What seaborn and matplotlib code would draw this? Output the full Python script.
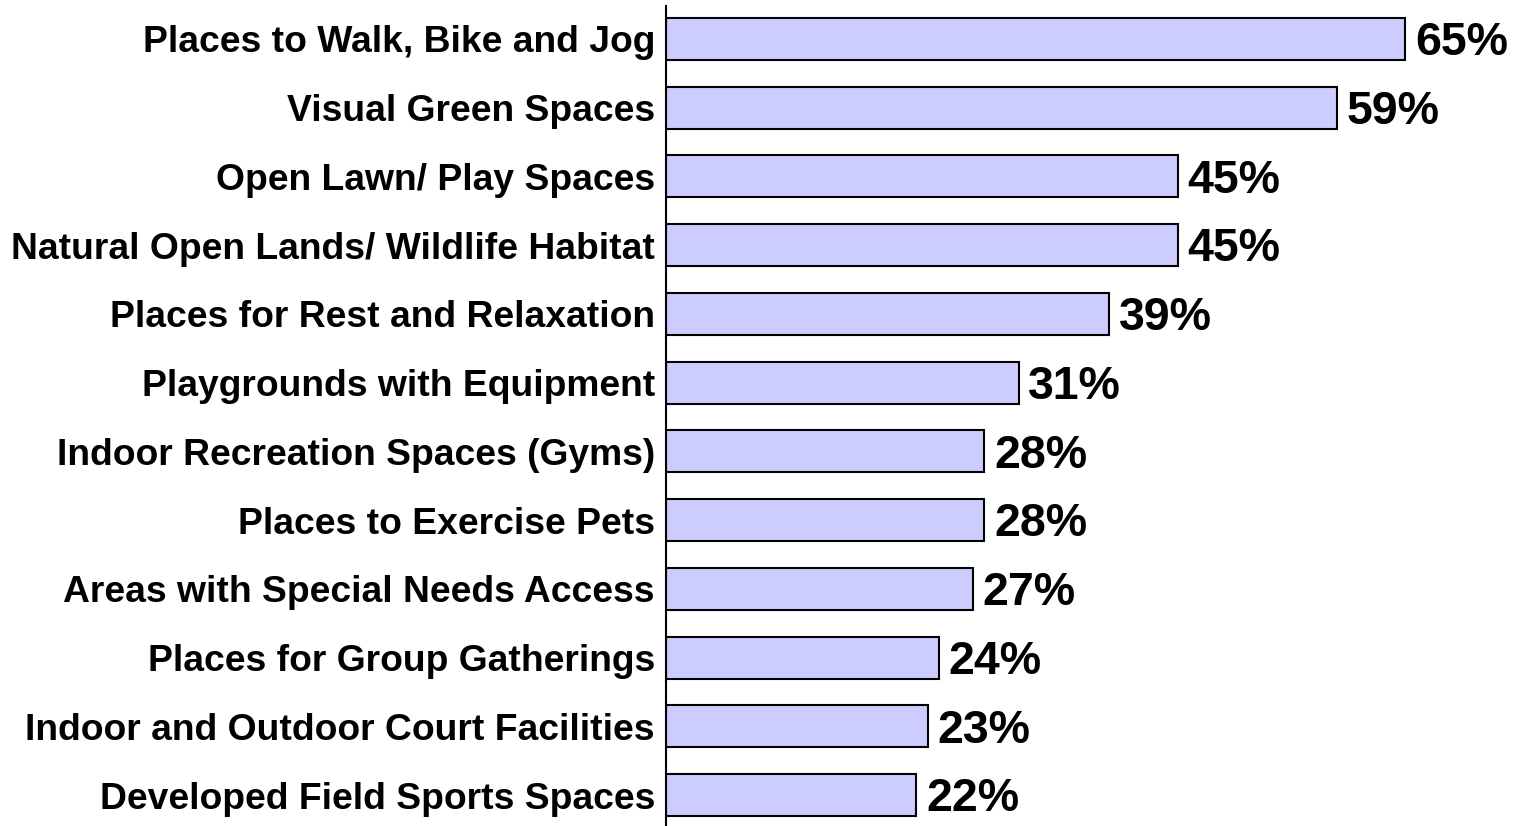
import matplotlib
matplotlib.use("Agg")
import matplotlib.pyplot as plt
import seaborn as sns
import pandas as pd

# survey items and share of respondents (%)
categories = [
    "Places to Walk, Bike and Jog",
    "Visual Green Spaces",
    "Open Lawn/ Play Spaces",
    "Natural Open Lands/ Wildlife Habitat",
    "Places for Rest and Relaxation",
    "Playgrounds with Equipment",
    "Indoor Recreation Spaces (Gyms)",
    "Places to Exercise Pets",
    "Areas with Special Needs Access",
    "Places for Group Gatherings",
    "Indoor and Outdoor Court Facilities",
    "Developed Field Sports Spaces",
]
values = [65, 59, 45, 45, 39, 31, 28, 28, 27, 24, 23, 22]
value_labels = ["65%", "59%", "45%", "45%", "39%", "31%", "28%", "28%", "27%", "24%", "23%", "22%"]

df = pd.DataFrame({"item": categories, "pct": values})

sns.set_style("white")
plt.rcParams["font.family"] = ["Liberation Sans", "DejaVu Sans"]

fig = plt.figure(figsize=(15.2, 8.26), dpi=100)
ax = fig.add_axes([666 / 1520, 0.0, 1 - 666 / 1520, 1 - 6 / 826])

sns.barplot(data=df, y="item", x="pct", orient="h", color="#CCCCFF",
            saturation=1, edgecolor="black", linewidth=1.5, width=0.61, ax=ax)

# value labels right of the bars
for i, (v, lab) in enumerate(zip(values, value_labels)):
    ax.annotate(lab, xy=(v, i), xytext=(7, -3), textcoords="offset points",
                va="center", ha="left", fontsize=33.5, fontweight="bold", color="black")

ax.set_xlim(0, 75.1)
ax.set_ylim(11.45, -0.48)
ax.set_xlabel("")
ax.set_ylabel("")
ax.set_xticks([])
ax.tick_params(axis="y", length=0, pad=8)
for t in ax.get_yticklabels():
    t.set_fontsize(26.8)
    t.set_fontweight("bold")
    t.set_color("black")

for s in ["top", "right", "bottom"]:
    ax.spines[s].set_visible(False)
ax.spines["left"].set_color("black")
ax.spines["left"].set_linewidth(1.5)

fig.savefig("out.png", dpi=100)
